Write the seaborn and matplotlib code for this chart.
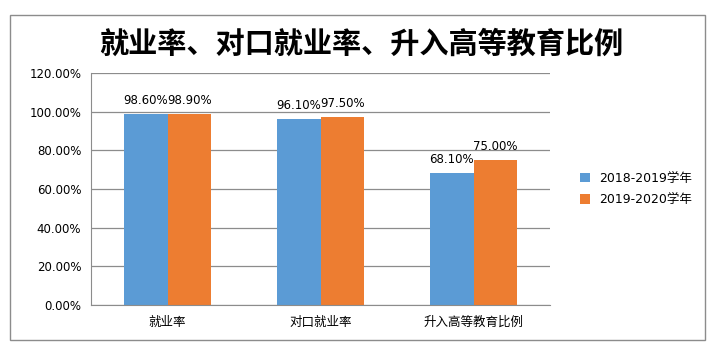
import numpy as np
import pandas as pd
import seaborn as sns
import matplotlib.pyplot as plt
from matplotlib.patches import Rectangle
from matplotlib.ticker import FuncFormatter

sns.set_style("white")
plt.rcParams['font.family'] = ['DejaVu Sans', 'Noto Sans CJK SC']
plt.rcParams['text.color'] = 'black'
plt.rcParams['xtick.labelcolor'] = 'black'
plt.rcParams['ytick.labelcolor'] = 'black'

categories = ['就业率', '对口就业率', '升入高等教育比例']
years = ['2018-2019学年', '2019-2020学年']
rate_2019 = [98.6, 96.1, 68.1]
rate_2020 = [98.9, 97.5, 75.0]
colors = ['#5B9BD5', '#ED7D31']

df = pd.DataFrame({
    'cat': categories * 2,
    'year': [years[0]] * 3 + [years[1]] * 3,
    'value': rate_2019 + rate_2020,
})

fig = plt.figure(figsize=(7.16, 3.51), dpi=100)
ax = fig.add_axes([91 / 716, 46 / 351, 459 / 716, 232 / 351])

sns.barplot(data=df, x='cat', y='value', hue='year', palette=colors,
            width=0.57, saturation=1, linewidth=0, ax=ax, legend=True)

for c in ax.containers:
    ax.bar_label(c, fmt='%.2f%%', padding=5, fontsize=8.5, color='black')

ax.set_ylim(0, 120)
ax.set_yticks(np.arange(0, 121, 20))
ax.yaxis.set_major_formatter(FuncFormatter(lambda v, p: f'{v:.2f}%'))
ax.set_xlim(-0.5, 2.5)
ax.set_xlabel('')
ax.set_ylabel('')
ax.grid(axis='y', color='#8c8c8c', linewidth=0.9)
ax.set_axisbelow(True)
for s in ['top', 'right']:
    ax.spines[s].set_visible(False)
for s in ['left', 'bottom']:
    ax.spines[s].set_color('#8c8c8c')
ax.tick_params(axis='y', length=5, color='#8c8c8c', labelsize=8.5, pad=2)
ax.tick_params(axis='x', length=0, labelsize=9, pad=8)
ax.set_xticks([-0.5, 0.5, 1.5, 2.5], minor=True)
ax.tick_params(axis='x', which='minor', length=5, color='#8c8c8c')

ax.legend(loc='center left', bbox_to_anchor=(1.04, 0.5), frameon=False,
          fontsize=9, handlelength=0.8, handleheight=0.8, labelspacing=0.7)

fig.text(0.505, 0.875, '就业率、对口就业率、升入高等教育比例',
         ha='center', va='center', fontsize=21, fontweight='bold',
         family='Noto Sans CJK SC', color='black')

fig.patches.append(Rectangle((10 / 716, 11 / 351), 695 / 716, 325 / 351,
                             transform=fig.transFigure, fill=False,
                             edgecolor='#8c8c8c', linewidth=1))

fig.savefig('out.png', dpi=100)
